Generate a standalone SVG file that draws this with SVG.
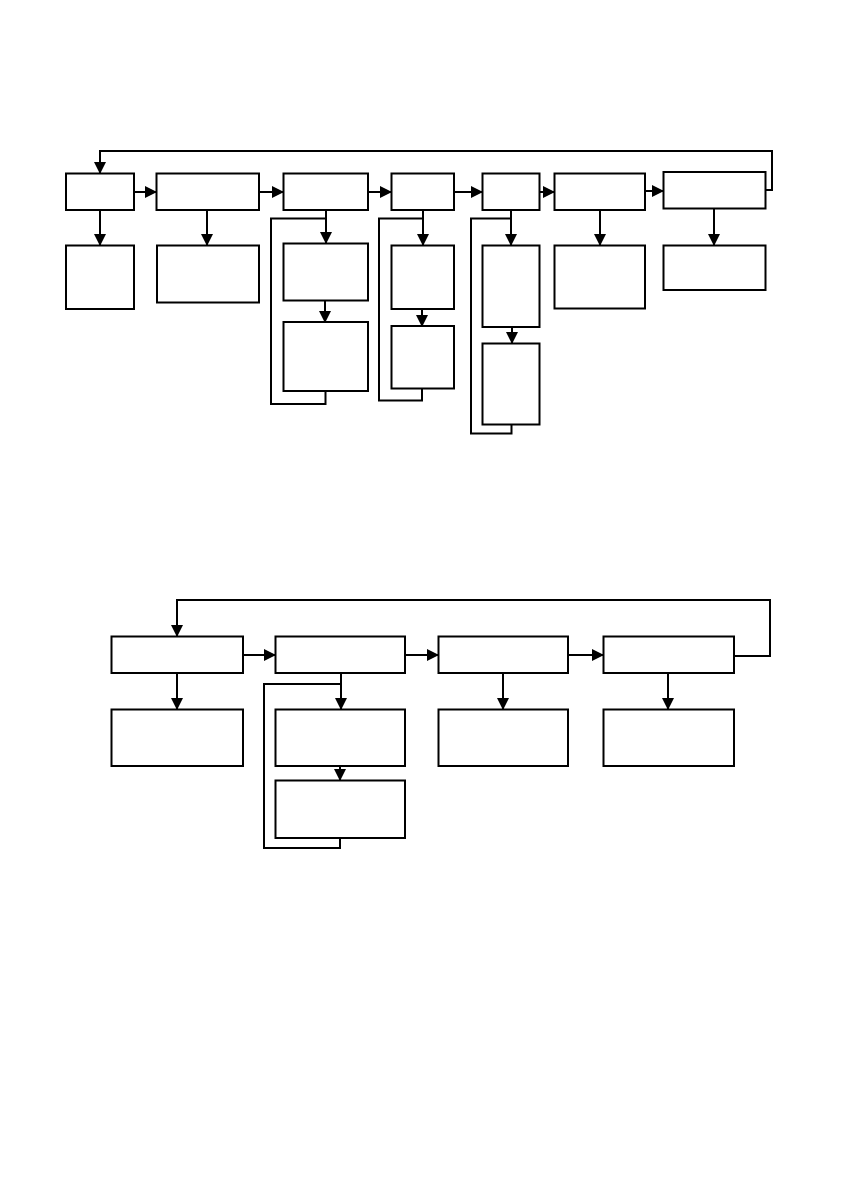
<svg xmlns="http://www.w3.org/2000/svg" width="842" height="1191" viewBox="0 0 842 1191">
<style>
.n{fill:#fff;stroke:#000;stroke-width:2}
.c{fill:none;stroke:#000;stroke-width:2}
.a{marker-end:url(#ah)}
</style>
<defs><marker id="ah" markerWidth="12" markerHeight="12" refX="11" refY="6" orient="auto" markerUnits="userSpaceOnUse"><path d="M0,0 L12,6 L0,12 Z" fill="#000"/></marker></defs>
<rect width="842" height="1191" fill="#fff"/>
<g id="connectors">
<polyline class="c a" points="765,190 772,190 772,151 100,151 100,173"/>
<line class="c a" x1="134" y1="192" x2="156" y2="192"/>
<line class="c a" x1="259" y1="192" x2="283" y2="192"/>
<line class="c a" x1="368" y1="192" x2="391" y2="192"/>
<line class="c a" x1="454" y1="192" x2="482" y2="192"/>
<line class="c a" x1="540" y1="192" x2="554" y2="192"/>
<line class="c a" x1="645" y1="191" x2="663" y2="191"/>
<line class="c a" x1="100" y1="210" x2="100" y2="245"/>
<line class="c a" x1="207" y1="210" x2="207" y2="245"/>
<line class="c a" x1="326" y1="210" x2="326" y2="243"/>
<line class="c a" x1="325" y1="300" x2="325" y2="322"/>
<polyline class="c" points="326,218.5 271,218.5 271,404 325.5,404 325.5,391"/>
<line class="c a" x1="423" y1="210" x2="423" y2="245"/>
<line class="c a" x1="422" y1="309" x2="422" y2="326"/>
<polyline class="c" points="423,218.5 379,218.5 379,400.5 422,400.5 422,389"/>
<line class="c a" x1="511" y1="210" x2="511" y2="245"/>
<line class="c a" x1="512" y1="327" x2="512" y2="343"/>
<polyline class="c" points="511,218.5 471,218.5 471,433.5 511.5,433.5 511.5,424"/>
<line class="c a" x1="600" y1="210" x2="600" y2="245"/>
<line class="c a" x1="714" y1="208" x2="714" y2="245"/>
<polyline class="c a" points="734,656 770,656 770,600 177,600 177,636"/>
<line class="c a" x1="243" y1="655" x2="275" y2="655"/>
<line class="c a" x1="405" y1="655" x2="438" y2="655"/>
<line class="c a" x1="568" y1="655" x2="603" y2="655"/>
<line class="c a" x1="177" y1="673" x2="177" y2="709"/>
<line class="c a" x1="341" y1="673" x2="341" y2="709"/>
<line class="c a" x1="340" y1="766" x2="340" y2="780"/>
<polyline class="c" points="341,684 264,684 264,848 340,848 340,838"/>
<line class="c a" x1="503" y1="673" x2="503" y2="709"/>
<line class="c a" x1="668" y1="673" x2="668" y2="709"/>
</g>
<g id="n1"><rect class="n" x="66" y="173.5" width="68" height="36.5"/></g>
<g id="n2"><rect class="n" x="156.5" y="173.5" width="102.5" height="36.5"/></g>
<g id="n3"><rect class="n" x="283.5" y="173.5" width="84.5" height="36.5"/></g>
<g id="n4"><rect class="n" x="391.5" y="173.5" width="62.5" height="36.5"/></g>
<g id="n5"><rect class="n" x="482.5" y="173.5" width="57" height="36.5"/></g>
<g id="n6"><rect class="n" x="554.5" y="173.5" width="90.5" height="36.5"/></g>
<g id="n7"><rect class="n" x="663.5" y="172" width="102" height="36.5"/></g>
<g id="n1c"><rect class="n" x="66" y="245.5" width="68" height="63.5"/></g>
<g id="n2c"><rect class="n" x="157" y="245.5" width="102" height="57"/></g>
<g id="n3c1"><rect class="n" x="283.5" y="243.5" width="84.5" height="57"/></g>
<g id="n3c2"><rect class="n" x="283.5" y="322" width="84.5" height="69"/></g>
<g id="n4c1"><rect class="n" x="391.5" y="245.5" width="62.5" height="63.5"/></g>
<g id="n4c2"><rect class="n" x="391.5" y="326" width="62.5" height="62.5"/></g>
<g id="n5c1"><rect class="n" x="482.5" y="245.5" width="57" height="81.5"/></g>
<g id="n5c2"><rect class="n" x="482.5" y="343.5" width="57" height="81"/></g>
<g id="n6c"><rect class="n" x="554.5" y="245.5" width="90.5" height="63"/></g>
<g id="n7c"><rect class="n" x="663.5" y="245.5" width="102" height="44.5"/></g>
<g id="bA"><rect class="n" x="111.5" y="636.5" width="131.5" height="36.5"/></g>
<g id="bB"><rect class="n" x="275.5" y="636.5" width="129.5" height="36.5"/></g>
<g id="bC"><rect class="n" x="438.5" y="636.5" width="129.5" height="36.5"/></g>
<g id="bD"><rect class="n" x="603.5" y="636.5" width="130.5" height="36.5"/></g>
<g id="bAc"><rect class="n" x="111.5" y="709.5" width="131.5" height="56.5"/></g>
<g id="bBc1"><rect class="n" x="275.5" y="709.5" width="129.5" height="56.5"/></g>
<g id="bBc2"><rect class="n" x="275.5" y="780.5" width="129.5" height="57.5"/></g>
<g id="bCc"><rect class="n" x="438.5" y="709.5" width="129.5" height="56.5"/></g>
<g id="bDc"><rect class="n" x="603.5" y="709.5" width="130.5" height="56.5"/></g>
</svg>
